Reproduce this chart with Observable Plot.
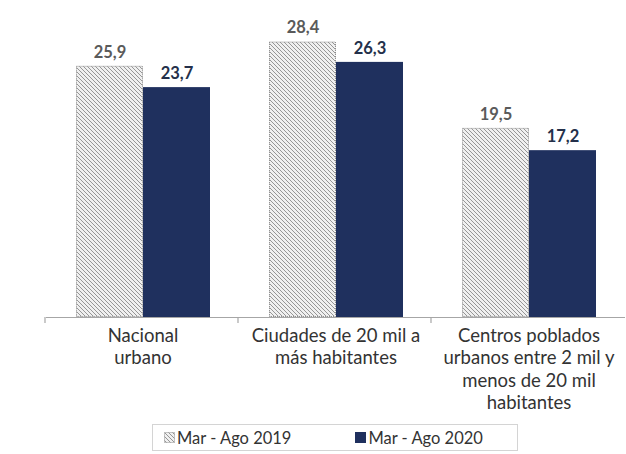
<!DOCTYPE html>
<html>
<head>
<meta charset="utf-8">
<script src="https://cdn.jsdelivr.net/npm/d3@7"></script>
<script src="https://cdn.jsdelivr.net/npm/@observablehq/plot@0.6"></script>
<style>
  body { margin: 0; background: #fff; font-family: Lato, "Open Sans", sans-serif; }
  #chart { width: 626px; height: 416px; }
  .legend { position: absolute; left: 152px; top: 424px; width: 366px; height: 27px;
    border: 1px solid #d4d4d4; display: flex; align-items: center; justify-content: flex-start;
    padding-left: 11px; gap: 64px; font-size: 16.5px; color: #333; box-sizing: border-box; }
  .legend span.item { display: flex; align-items: center; gap: 2px; }
  .sw { width: 11px; height: 11px; display: inline-block; box-sizing: border-box; }
</style>
</head>
<body>
<svg width="0" height="0" style="position:absolute">
  <defs>
    <pattern id="hatch" patternUnits="userSpaceOnUse" width="4" height="4">
      <rect width="4" height="4" fill="#f0f0f0"></rect>
      <path d="M-1,-1 L5,5 M-1,3 L1,5 M3,-1 L5,1" stroke="#969696" stroke-width="1"></path>
    </pattern>
  </defs>
</svg>
<div id="chart"></div>
<div class="legend">
  <span class="item"><svg class="sw" width="11" height="11"><rect x="0.5" y="0.5" width="10" height="10" fill="url(#hatch)" stroke="#8e8e8e" stroke-dasharray="1,1"></rect></svg><span id="lg0"></span></span>
  <span class="item"><span class="sw" style="background:#1f305e"></span><span id="lg1"></span></span>
</div>
<script>
const categories = ["Nacional urbano", "Ciudades de 20 mil a más habitantes", "Centros poblados urbanos entre 2 mil y menos de 20 mil habitantes"];
const categoryLabels = ["Nacional\nurbano", "Ciudades de 20 mil a\nmás habitantes", "Centros poblados\nurbanos entre 2 mil y\nmenos de 20 mil\nhabitantes"];
const series = ["Mar - Ago 2019", "Mar - Ago 2020"];
const values2019 = [25.9, 28.4, 19.5];
const values2020 = [23.7, 26.3, 17.2];

const data = [];
categories.forEach((c, i) => {
  data.push({cat: c, series: series[0], value: values2019[i]});
  data.push({cat: c, series: series[1], value: values2020[i]});
});
const fmt = d => d.value.toFixed(1).replace(".", ",");
const labelOf = Object.fromEntries(categories.map((c, i) => [c, categoryLabels[i]]));

document.getElementById("lg0").textContent = series[0];
document.getElementById("lg1").textContent = series[1];

const plot = Plot.plot({
  width: 626,
  height: 416,
  marginLeft: 45,
  marginRight: 0,
  marginTop: 26,
  marginBottom: 99,
  style: {fontFamily: "Lato, 'Open Sans', sans-serif", background: "#fff"},
  fx: {domain: categories, padding: 0, label: null},
  x: {domain: series, paddingInner: 0, paddingOuter: 0.424, axis: null},
  y: {domain: [0, 30], axis: null},
  marks: [
    Plot.barY(data.filter(d => d.series === series[0]), {
      fx: "cat", x: "series", y: "value",
      fill: "url(#hatch)", stroke: "#8e8e8e", strokeDasharray: "1,1", strokeWidth: 1, inset: 0.5
    }),
    Plot.barY(data.filter(d => d.series === series[1]), {
      fx: "cat", x: "series", y: "value", fill: "#1f305e", inset: 0
    }),
    Plot.ruleY([0], {stroke: "#a6a6a6", strokeWidth: 1.2}),
    Plot.text(data, {
      fx: "cat", x: "series", y: "value", text: fmt, dy: -14,
      fill: d => d.series === series[0] ? "#5a5a5a" : "#24304a",
      fontSize: 16.5, fontWeight: "bold"
    }),
    Plot.axisFx({
      anchor: "bottom", tickSize: 0, tickPadding: 8, label: null,
      tickFormat: d => labelOf[d], fontSize: 18.5, lineHeight: 1.22, fill: "#333"
    })
  ]
});
document.getElementById("chart").appendChild(plot);

// category boundary ticks from the fx scale
const fxs = plot.scale("fx");
const ys = plot.scale("y");
const y0 = ys.apply(0);
const svg = d3.select(plot.tagName === "svg" ? plot : plot.querySelector("svg"));
const step = fxs.step;
const start = fxs.range[0];
const bounds = d3.range(categories.length).map(i => start + i * step);
svg.append("g").selectAll("line").data(bounds).join("line")
  .attr("x1", d => d).attr("x2", d => d)
  .attr("y1", y0).attr("y2", y0 + 6)
  .attr("stroke", "#a6a6a6").attr("stroke-width", 1.2);
</script>
</body>
</html>
